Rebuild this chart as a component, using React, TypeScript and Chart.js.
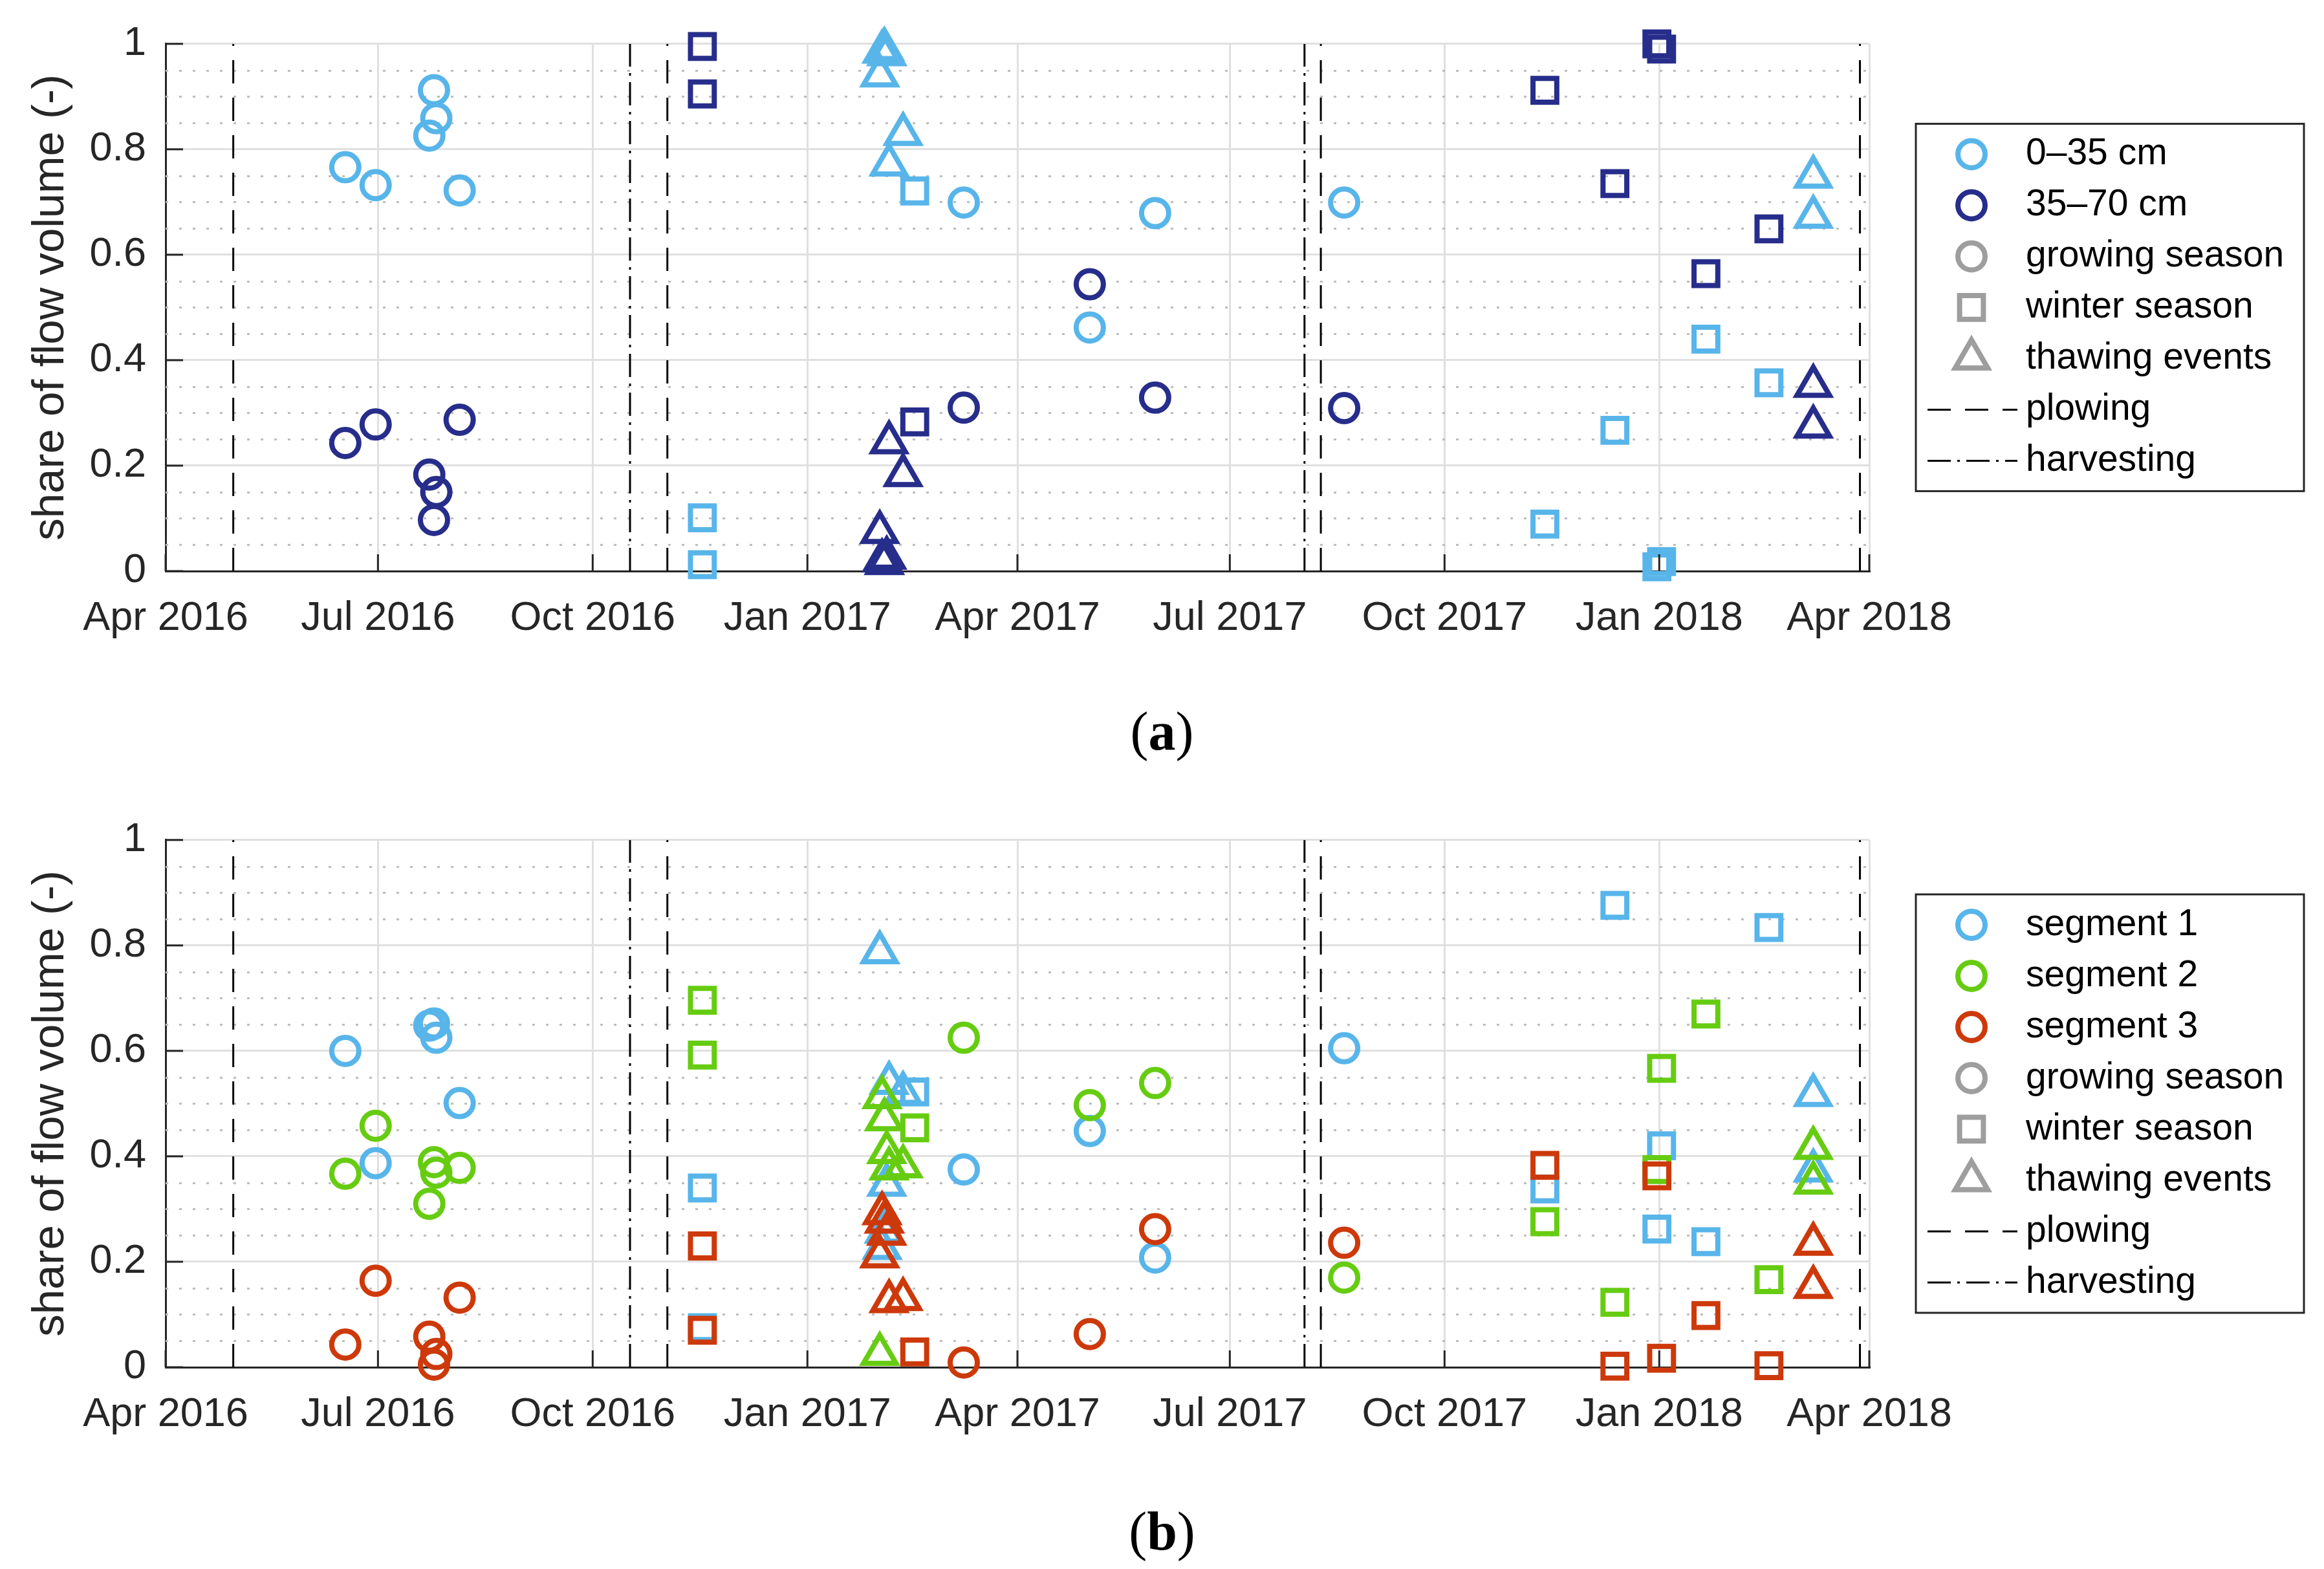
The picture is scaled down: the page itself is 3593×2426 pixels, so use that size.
import React, { useEffect, useRef } from 'react';
import { Chart, registerables } from 'chart.js';
import { drawPoint } from 'chart.js/helpers';

Chart.register(...registerables);

// x values are day numbers (days since 1970-01-01, UTC)
const day = (s: string) => {
  const [y, m, d] = s.split('-').map(Number);
  return Date.UTC(y, m - 1, d) / 86400000;
};

const tickDates = ['2016-04-01', '2016-07-01', '2016-10-01', '2017-01-01', '2017-04-01', '2017-07-01', '2017-10-01', '2018-01-01', '2018-04-01'];
const tickLabels = ['Apr 2016', 'Jul 2016', 'Oct 2016', 'Jan 2017', 'Apr 2017', 'Jul 2017', 'Oct 2017', 'Jan 2018', 'Apr 2018'];

const plowingDates = ['2016-04-30', '2016-11-02', '2017-08-09', '2018-03-28'];
const harvestingDates = ['2016-10-17', '2017-08-02'];

const growingDates = ['2016-06-17', '2016-06-30', '2016-07-23', '2016-07-25', '2016-07-26', '2016-08-05', '2017-03-09', '2017-05-02', '2017-05-30', '2017-08-19'];
const winterDates = ['2016-11-17', '2016-11-17', '2017-02-16', '2017-11-13', '2017-12-13', '2017-12-31', '2018-01-02', '2018-01-21', '2018-02-17'];
const thawingDates = ['2017-02-01', '2017-02-02', '2017-02-03', '2017-02-04', '2017-02-05', '2017-02-11', '2018-03-08', '2018-03-08'];

// (a) depth layers
const growTop = [0.766, 0.732, 0.826, 0.912, 0.859, 0.722, 0.699, 0.462, 0.679, 0.699];
const growSub = [0.243, 0.278, 0.183, 0.097, 0.150, 0.287, 0.31, 0.544, 0.329, 0.309];
const winterTop = [0.012, 0.101, 0.721, 0.089, 0.267, 0.008, 0.018, 0.44, 0.357];
const winterSub = [0.995, 0.905, 0.283, 0.912, 0.735, 1.0, 0.99, 0.564, 0.649];
const thawTop = [0.94, 0.985, 0.99, 0.98, 0.771, 0.829, 0.748, 0.672];
const thawSub = [0.074, 0.02, 0.015, 0.025, 0.244, 0.182, 0.274, 0.351];

// (b) segments
const growSeg1 = [0.6, 0.387, 0.648, 0.652, 0.625, 0.501, 0.375, 0.448, 0.208, 0.605];
const growSeg2 = [0.367, 0.458, 0.31, 0.389, 0.369, 0.378, 0.625, 0.497, 0.539, 0.17];
const growSeg3 = [0.043, 0.164, 0.058, 0.005, 0.025, 0.132, 0.009, 0.063, 0.262, 0.236];
const winterSeg1 = [0.075, 0.34, 0.522, 0.338, 0.876, 0.262, 0.42, 0.238, 0.834];
const winterSeg2 = [0.696, 0.592, 0.454, 0.276, 0.123, 0.375, 0.567, 0.67, 0.166];
const winterSeg3 = [0.23, 0.07, 0.029, 0.383, 0.002, 0.363, 0.017, 0.098, 0.003];
const thawSeg1 = [0.787, 0.226, 0.257, 0.346, 0.539, 0.52, 0.516, 0.373];
const thawSeg2 = [0.025, 0.512, 0.47, 0.408, 0.377, 0.381, 0.35, 0.416];
const thawSeg3 = [0.21, 0.292, 0.276, 0.253, 0.125, 0.129, 0.152, 0.234];

const LIGHT = '#58B5EA';
const DARK = '#272D8A';
const GREEN = '#66CC11';
const RED = '#CD390A';
const GRAY = '#9E9E9E';
const INK = '#262626';
const FONT = '"Liberation Sans", Arial, Helvetica, sans-serif';

const DASH = [36, 22];
const DASHDOT = [36, 10, 4, 10];
const RADIUS: Record<string, number> = { circle: 21, rect: 26, triangle: 29 };
const STROKE = 8;

type LegendItem = { label: string; kind: string; color: string };

const points = (dates: string[], vals: number[]) => dates.map((d, i) => ({ x: day(d), y: vals[i] }));
const eventLine = (dates: string[]) =>
  dates.flatMap((d) => [{ x: day(d), y: 0 }, { x: day(d), y: 1 }, { x: day(d), y: null }]);

const markers = (label: string, dates: string[], vals: number[], color: string, style: string) => ({
  type: 'scatter',
  label,
  data: points(dates, vals),
  pointStyle: style,
  pointRadius: RADIUS[style],
  pointHoverRadius: RADIUS[style],
  pointBorderWidth: STROKE,
  pointBorderColor: color,
  pointBackgroundColor: 'rgba(0,0,0,0)',
  clip: false,
});

const events = (label: string, dates: string[], dash: number[]) => ({
  type: 'line',
  label,
  data: eventLine(dates),
  borderColor: '#000',
  borderWidth: 3,
  borderDash: dash,
  pointRadius: 0,
  spanGaps: false,
});

const depthDatasets = [
  markers('0–35 cm growing', growingDates, growTop, LIGHT, 'circle'),
  markers('35–70 cm growing', growingDates, growSub, DARK, 'circle'),
  markers('0–35 cm winter', winterDates, winterTop, LIGHT, 'rect'),
  markers('35–70 cm winter', winterDates, winterSub, DARK, 'rect'),
  markers('0–35 cm thawing', thawingDates, thawTop, LIGHT, 'triangle'),
  markers('35–70 cm thawing', thawingDates, thawSub, DARK, 'triangle'),
  events('plowing', plowingDates, DASH),
  events('harvesting', harvestingDates, DASHDOT),
];

const segmentDatasets = [
  markers('segment 3 growing', growingDates, growSeg3, RED, 'circle'),
  markers('segment 2 growing', growingDates, growSeg2, GREEN, 'circle'),
  markers('segment 1 growing', growingDates, growSeg1, LIGHT, 'circle'),
  markers('segment 3 winter', winterDates, winterSeg3, RED, 'rect'),
  markers('segment 2 winter', winterDates, winterSeg2, GREEN, 'rect'),
  markers('segment 1 winter', winterDates, winterSeg1, LIGHT, 'rect'),
  markers('segment 3 thawing', thawingDates, thawSeg3, RED, 'triangle'),
  markers('segment 2 thawing', thawingDates, thawSeg2, GREEN, 'triangle'),
  markers('segment 1 thawing', thawingDates, thawSeg1, LIGHT, 'triangle'),
  events('plowing', plowingDates, DASH),
  events('harvesting', harvestingDates, DASHDOT),
];

const commonLegend: LegendItem[] = [
  { label: 'growing season', kind: 'circle', color: GRAY },
  { label: 'winter season', kind: 'rect', color: GRAY },
  { label: 'thawing events', kind: 'triangle', color: GRAY },
  { label: 'plowing', kind: 'dash', color: '#000' },
  { label: 'harvesting', kind: 'dashdot', color: '#000' },
];
const depthLegend: LegendItem[] = [
  { label: '0–35 cm', kind: 'circle', color: LIGHT },
  { label: '35–70 cm', kind: 'circle', color: DARK },
  ...commonLegend,
];
const segmentLegend: LegendItem[] = [
  { label: 'segment 1', kind: 'circle', color: LIGHT },
  { label: 'segment 2', kind: 'circle', color: GREEN },
  { label: 'segment 3', kind: 'circle', color: RED },
  ...commonLegend,
];

// minor dotted grid, inward tick marks and the boxed legend
const matlabAxes = (items: LegendItem[]) => ({
  id: 'matlabAxes',
  beforeDatasetsDraw(chart: any) {
    const { ctx, chartArea } = chart;
    const y = chart.scales.y;
    ctx.save();
    ctx.strokeStyle = '#BDBDBD';
    ctx.lineWidth = 3;
    ctx.setLineDash([4, 17]);
    for (let k = 1; k < 20; k++) {
      if (k % 4 === 0) continue;
      const py = Math.round(y.getPixelForValue(k / 20)) + 0.5;
      ctx.beginPath();
      ctx.moveTo(chartArea.left, py);
      ctx.lineTo(chartArea.right, py);
      ctx.stroke();
    }
    ctx.restore();
  },
  afterDatasetsDraw(chart: any) {
    const { ctx, chartArea } = chart;
    const { x, y } = chart.scales;
    ctx.save();
    ctx.strokeStyle = INK;
    ctx.lineWidth = 3;
    x.ticks.forEach((t: any) => {
      const px = x.getPixelForValue(t.value);
      ctx.beginPath();
      ctx.moveTo(px, chartArea.bottom);
      ctx.lineTo(px, chartArea.bottom - 26);
      ctx.stroke();
    });
    y.ticks.forEach((t: any) => {
      const py = y.getPixelForValue(t.value);
      ctx.beginPath();
      ctx.moveTo(chartArea.left, py);
      ctx.lineTo(chartArea.left + 27, py);
      ctx.stroke();
    });
    ctx.restore();
  },
  afterDraw(chart: any) {
    const { ctx, chartArea } = chart;
    const step = 79;
    const n = items.length;
    const cy = (chartArea.top + chartArea.bottom) / 2;
    const half = ((n - 1) / 2) * step + 47;
    const left = chartArea.right + 72;
    const width = 600;
    ctx.save();
    ctx.fillStyle = '#fff';
    ctx.fillRect(left, cy - half, width, 2 * half);
    ctx.strokeStyle = INK;
    ctx.lineWidth = 3;
    ctx.strokeRect(left, cy - half, width, 2 * half);
    items.forEach((it, i) => {
      const yy = cy + (i - (n - 1) / 2) * step;
      ctx.strokeStyle = it.color;
      if (it.kind === 'dash' || it.kind === 'dashdot') {
        ctx.lineWidth = 3;
        ctx.setLineDash(it.kind === 'dash' ? DASH : DASHDOT);
        ctx.beginPath();
        ctx.moveTo(left + 18, yy);
        ctx.lineTo(left + 157, yy);
        ctx.stroke();
        ctx.setLineDash([]);
      } else {
        ctx.fillStyle = 'rgba(0,0,0,0)';
        ctx.lineWidth = STROKE;
        drawPoint(ctx, { pointStyle: it.kind, radius: RADIUS[it.kind], rotation: 0, borderWidth: STROKE } as any, left + 86, yy);
      }
      ctx.fillStyle = '#000';
      ctx.font = `57px ${FONT}`;
      ctx.textAlign = 'left';
      ctx.textBaseline = 'middle';
      ctx.fillText(it.label, left + 170, yy);
    });
    ctx.restore();
  },
});

const Panel: React.FC<{ datasets: any[]; legend: LegendItem[]; top: number }> = ({ datasets, legend, top }) => {
  const chartRef = useRef<HTMLCanvasElement>(null);
  const chartInstance = useRef<Chart | null>(null);

  useEffect(() => {
    if (!chartRef.current) return;
    if (chartInstance.current) chartInstance.current.destroy();

    chartInstance.current = new Chart(chartRef.current, {
      type: 'scatter',
      data: { datasets },
      options: {
        animation: false,
        responsive: false,
        events: [],
        layout: { padding: { left: 0, top: 61, right: 703, bottom: 0 } },
        plugins: { legend: { display: false }, tooltip: { enabled: false } },
        scales: {
          x: {
            type: 'linear',
            min: day(tickDates[0]),
            max: day(tickDates[tickDates.length - 1]),
            afterBuildTicks: (scale: any) => {
              scale.ticks = tickDates.map((d) => ({ value: day(d) }));
            },
            afterFit: (scale: any) => {
              scale.height = 127;
            },
            ticks: {
              autoSkip: false,
              maxRotation: 0,
              padding: 36,
              color: INK,
              font: { family: FONT, size: 63 },
              callback: (_v: any, i: number) => tickLabels[i],
            },
            grid: { color: '#E0E0E0', lineWidth: 3, drawTicks: false },
            border: { color: INK, width: 3 },
          },
          y: {
            min: 0,
            max: 1,
            afterFit: (scale: any) => {
              scale.width = 256;
            },
            ticks: {
              stepSize: 0.2,
              padding: 30,
              color: INK,
              font: { family: FONT, size: 63 },
              callback: (v: any) => String(Number(Number(v).toFixed(1))),
            },
            grid: { color: '#E0E0E0', lineWidth: 3, drawTicks: false },
            border: { color: INK, width: 3 },
            title: {
              display: true,
              text: 'share of flow volume (-)',
              color: INK,
              font: { family: FONT, size: 69 },
              padding: { top: 38, bottom: 0 },
            },
          },
        },
      } as any,
      plugins: [matlabAxes(legend)],
    });

    return () => {
      if (chartInstance.current) {
        chartInstance.current.destroy();
        chartInstance.current = null;
      }
    };
  }, []);

  return (
    <canvas
      ref={chartRef}
      width={3593}
      height={1010}
      style={{ position: 'absolute', left: 0, top, width: 3593, height: 1010, display: 'block' }}
    />
  );
};

const Caption: React.FC<{ letter: string; centerY: number }> = ({ letter, centerY }) => (
  <div
    style={{
      position: 'absolute',
      left: 0,
      width: 3593,
      top: centerY - 50,
      height: 100,
      lineHeight: '100px',
      textAlign: 'center',
      fontFamily: '"Liberation Serif", "DejaVu Serif", serif',
      fontSize: 84,
      color: '#000',
    }}
  >
    (<b>{letter}</b>)
  </div>
);

export default function App() {
  useEffect(() => {
    document.body.style.margin = '0';
    document.body.style.background = '#fff';
  }, []);

  return (
    <div style={{ position: 'relative', width: 3593, height: 2426, background: '#fff', overflow: 'hidden' }}>
      <Panel datasets={depthDatasets} legend={depthLegend} top={0} />
      <Caption letter="a" centerY={1131} />
      <Panel datasets={segmentDatasets} legend={segmentLegend} top={1231} />
      <Caption letter="b" centerY={2368} />
    </div>
  );
}
